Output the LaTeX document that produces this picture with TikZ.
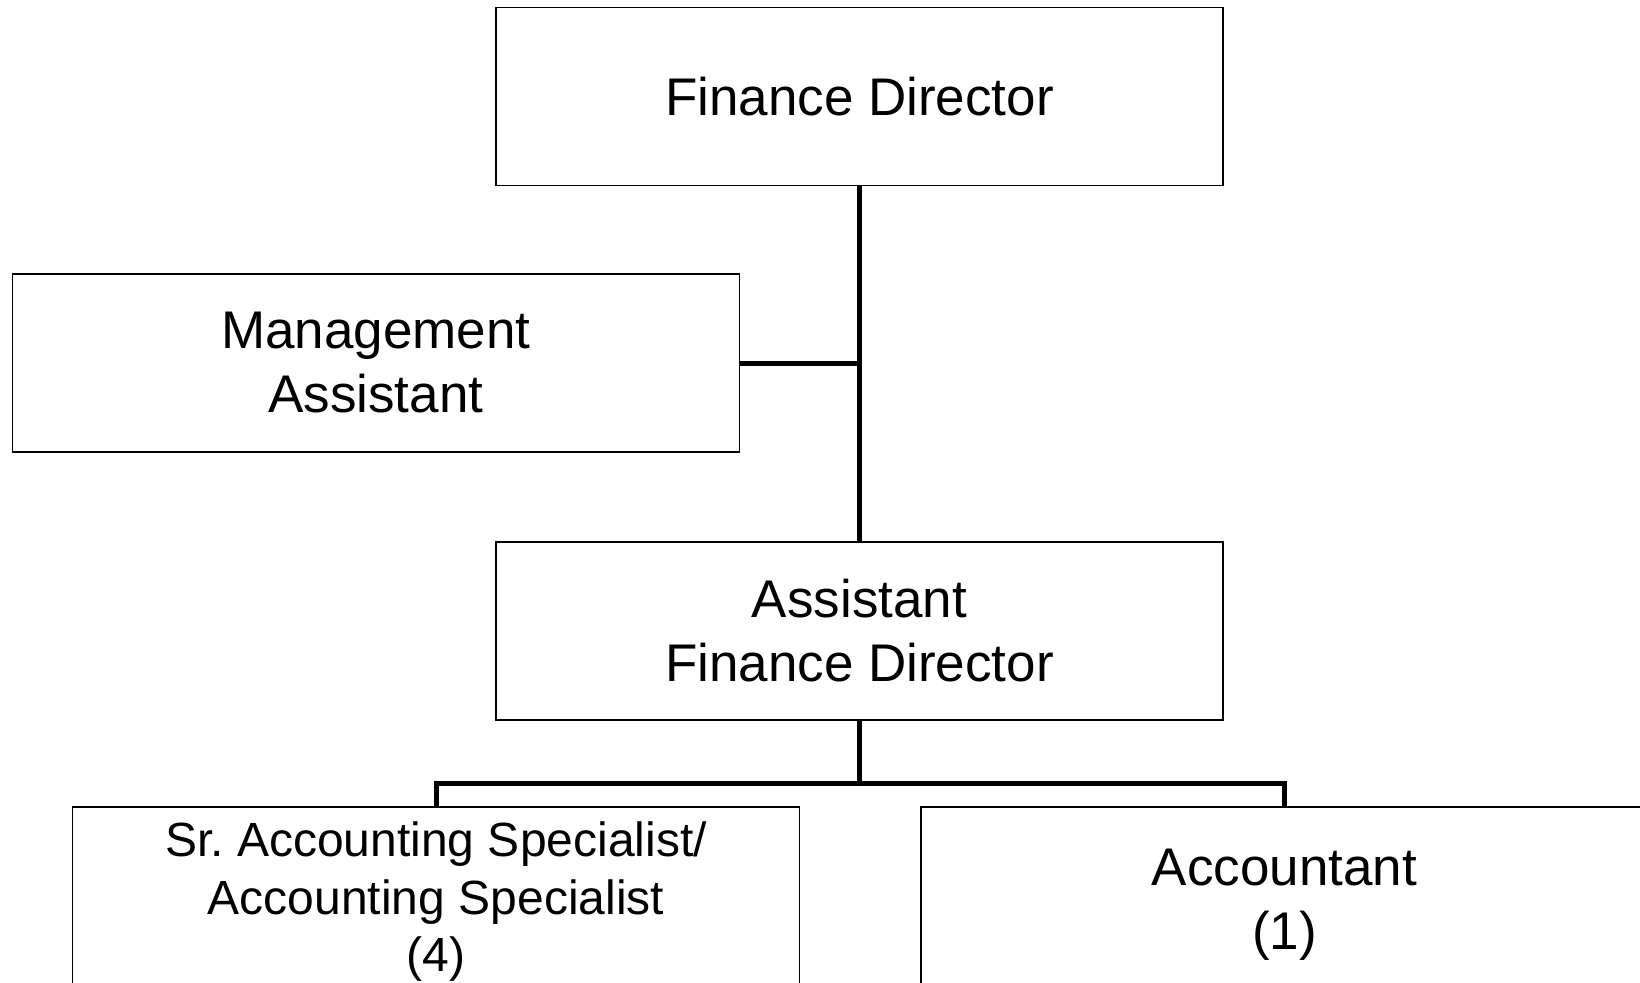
\documentclass[tikz,border=0pt]{standalone}
\usepackage{fontspec}
\setmainfont{Liberation Sans}
\usetikzlibrary{positioning}

\begin{document}
\begin{tikzpicture}[
  x=1pt, y=-1pt,
  box/.style={draw, line width=1.5pt, fill=white, minimum width=727pt, minimum height=178pt,
    inner sep=0pt, align=center, font=\fontsize{53}{64}\selectfont},
  conn/.style={line width=5pt}
]
\clip (0,0) rectangle (1640,982);
\fill[white] (0,0) rectangle (1640,982);
\node[box] (fd) at (859.5,96.5) {Finance Director};
\node[box, below=355pt of fd] (afd) {Assistant\\Finance Director};
\node[box] (mgmt) at (375.75,363) {Management\\Assistant};
\node[box, minimum height=190pt, anchor=north, font=\fontsize{48}{57.5}\selectfont]
  (sr) at (436,806) {Sr.\ Accounting Specialist/\\Accounting Specialist\\(4)};
\node[box, minimum height=195pt, below right=0pt and 120pt of sr.north east] (acc) {Accountant\\(1)};
\coordinate (bus) at (859.5,783);
\draw[conn] (fd) -- (afd);
\draw[conn] (mgmt.east) -- (mgmt.east -| fd.south);
\draw[conn] (afd) -- (bus);
\draw[conn] (sr.north) |- (bus) -| (acc.north);
\end{tikzpicture}
\end{document}
